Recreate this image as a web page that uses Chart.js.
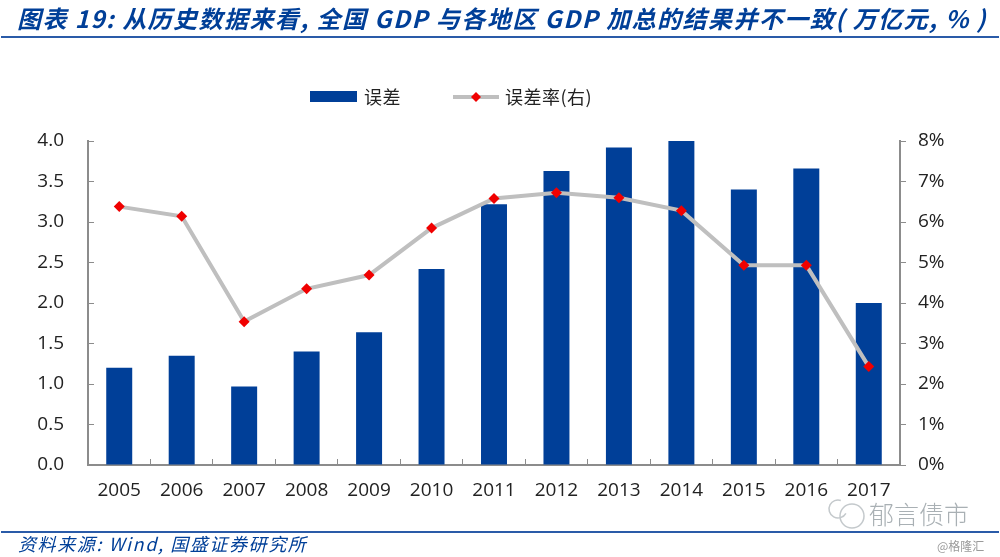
<!DOCTYPE html>
<html><head><meta charset="utf-8">
<script src="https://cdn.jsdelivr.net/npm/chart.js@4"></script>
<style>
html,body{margin:0;padding:0;background:#fff;width:1000px;height:557px;overflow:hidden}
#c{position:absolute;left:0;top:0;width:1000px;height:557px}
.t{position:absolute;white-space:nowrap}
#title{left:17px;top:0px;font:italic 700 24px "Noto Sans CJK SC","Noto Sans";color:#003f98;letter-spacing:1.45px}
#r1{position:absolute;left:1px;top:36px;width:998px;height:2px;background:#2a5ba8}
#r2{position:absolute;left:1px;top:531px;width:998px;height:2px;background:#2a5ba8}
#src{left:18px;top:530px;font:italic 400 18px "Noto Sans CJK SC";color:#003f98;letter-spacing:1.6px}
#wm{left:869px;top:495px;font:300 25px "Noto Sans CJK SC";color:#a9b0b4}
#wm2{left:937px;top:537px;font:400 12px "Noto Sans CJK SC";color:#9a9a9a}
.lg{position:absolute;top:83px;font:400 18px "Noto Sans CJK SC";color:#222;letter-spacing:.5px}
</style></head><body>
<canvas id="c" width="1000" height="557"></canvas>
<div id="title" class="t">图表 19: 从历史数据来看, 全国 GDP 与各地区 GDP 加总的结果并不一致( 万亿元, % )</div>
<div id="r1"></div>
<div class="lg" style="left:364px">误差</div>
<div class="lg" style="left:505px">误差率(右)</div>
<div id="r2"></div>
<div id="src" class="t">资料来源: Wind, 国盛证券研究所</div>
<div id="wm" class="t">郁言债市</div>
<div id="wm2" class="t">@格隆汇</div>
<script>
const categories=["2005","2006","2007","2008","2009","2010","2011","2012","2013","2014","2015","2016","2017"];
const errorValues=[1.2,1.35,0.97,1.4,1.64,2.42,3.22,3.63,3.92,4.0,3.4,3.66,2.0];
const errorRate=[6.38,6.14,3.54,4.35,4.69,5.85,6.58,6.72,6.6,6.28,4.93,4.93,2.43];
const leftTicks=[0,0.5,1,1.5,2,2.5,3,3.5,4];
const rightTicks=[0,1,2,3,4,5,6,7,8];
const BLUE="#003f98",GREY="#bfbfbf",RED="#f00000",AXIS="#8c8c8c";
const FONT={family:"'Open Sans'",size:19};
const legendMarks={id:"legendMarks",afterDraw(ch){
  const x=ch.ctx;x.save();
  x.fillStyle=BLUE;x.fillRect(310,91,47,11);
  x.strokeStyle=GREY;x.lineWidth=4;x.beginPath();x.moveTo(453,97);x.lineTo(499,97);x.stroke();
  x.fillStyle=RED;x.beginPath();x.moveTo(476,92);x.lineTo(481,97);x.lineTo(476,102);x.lineTo(471,97);x.closePath();x.fill();
  // faint chat-bubble watermark
  x.strokeStyle="#c4c9cc";x.lineWidth=1.5;
  x.beginPath();x.arc(852,516,12,0,Math.PI*2);x.stroke();
  x.beginPath();x.arc(838,509,9,0.5,Math.PI*1.6);x.stroke();
  x.restore();
}};
new Chart(document.getElementById("c"),{
  data:{labels:categories,datasets:[
    {type:"line",label:"误差率(右)",data:errorRate,yAxisID:"y2",borderColor:GREY,borderWidth:4,tension:0,
     pointStyle:"rectRot",pointRadius:5.5,pointHoverRadius:5.5,pointBackgroundColor:RED,pointBorderColor:RED,pointBorderWidth:0,order:1},
    {type:"bar",label:"误差",data:errorValues,yAxisID:"y",backgroundColor:BLUE,categoryPercentage:1,barPercentage:0.416,order:2}
  ]},
  options:{responsive:false,animation:false,devicePixelRatio:1,
    layout:{padding:{top:141}},
    plugins:{legend:{display:false},tooltip:{enabled:false}},
    scales:{
      x:{offset:true,grid:{offset:true,drawOnChartArea:false,tickLength:-6,color:AXIS},border:{color:AXIS,width:2},
         ticks:{font:FONT,color:"#222",padding:20,maxRotation:0,autoSkip:false},afterFit(a){a.height=92}},
      y:{position:"left",min:0,max:4,grid:{drawOnChartArea:false,tickLength:-6,color:AXIS},border:{color:AXIS,width:2},
         afterBuildTicks(a){a.ticks=leftTicks.map(v=>({value:v}))},
         ticks:{font:FONT,color:"#222",padding:30,callback:v=>v.toFixed(1)},afterFit(a){a.width=88}},
      y2:{position:"right",min:0,max:8,grid:{drawOnChartArea:false,tickLength:6,color:AXIS},border:{color:AXIS,width:2},
         afterBuildTicks(a){a.ticks=rightTicks.map(v=>({value:v}))},
         ticks:{font:FONT,color:"#222",padding:12,callback:v=>v+"%"},afterFit(a){a.width=100}}
    }
  },
  plugins:[legendMarks]
});
</script>
</body></html>
